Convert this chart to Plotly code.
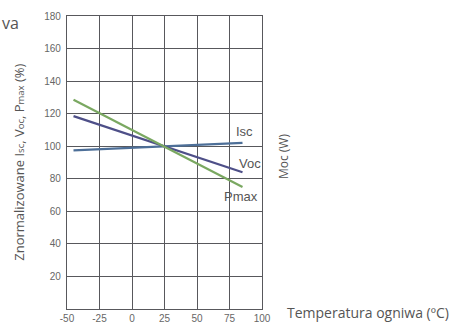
import plotly.graph_objects as go

temps = [-45, 85]
isc = [97.5, 102]
voc = [118.5, 84]
pmax = [128.5, 75]

x_ticks = [-50, -25, 0, 25, 50, 75, 100]
y_ticks = [20, 40, 60, 80, 100, 120, 140, 160, 180]

series = [("Isc", isc, "#4d6f98"), ("Voc", voc, "#4e4f88"), ("Pmax", pmax, "#7aa861")]

fig = go.Figure()
for name, vals, col in series:
    fig.add_trace(go.Scatter(x=temps, y=vals, mode="lines", name=name,
                             line=dict(color=col, width=2.2), showlegend=False))

grid = "#58585c"
fig.update_xaxes(range=[-50, 100], tickvals=x_ticks, ticktext=[str(v) for v in x_ticks],
                 showgrid=True, gridcolor=grid, gridwidth=1.3, showline=True, linecolor=grid,
                 linewidth=1.3, mirror=True, zeroline=False, ticks="", ticklabelstandoff=0,
                 automargin=False,
                 tickfont=dict(family="Liberation Sans", size=10, color="#666"))
fig.update_yaxes(range=[0, 180], tickvals=y_ticks, ticktext=[str(v) for v in y_ticks],
                 showgrid=True, gridcolor=grid, gridwidth=1.3, showline=True, linecolor=grid,
                 linewidth=1.3, mirror=True, zeroline=False, ticks="", ticklabelstandoff=3,
                 automargin=False,
                 tickfont=dict(family="Liberation Sans", size=10, color="#666"))

tf = dict(family="Open Sans", size=12, color="#555")
small = '<span style="font-size:9.5px">'
anns = [
    dict(x=86.5, y=109, text="Isc", xanchor="center", yanchor="middle"),
    dict(x=90.5, y=89.5, text="Voc", xanchor="center", yanchor="middle"),
    dict(x=84, y=69, text="Pmax", xanchor="center", yanchor="middle"),
]
for a in anns:
    fig.add_annotation(xref="x", yref="y", showarrow=False,
                       font=dict(family="Liberation Sans", size=13, color="#555"), **a)

fig.add_annotation(xref="paper", yref="paper", x=1.11, y=0.52, text="Moc (W)", textangle=-90,
                   showarrow=False, font=tf, xanchor="center", yanchor="middle")
fig.add_annotation(xref="paper", yref="paper", x=-0.25, y=0.5,
                   text="Znormalizowane I" + small + "sc</span>, V" + small + "oc</span>, P" + small + "max</span> (%)",
                   textangle=-90, showarrow=False, font=dict(family="Open Sans", size=13, color="#555"),
                   xanchor="center", yanchor="middle")
fig.add_annotation(xref="paper", yref="paper", x=1.12, y=-0.013, text="Temperatura ogniwa (ºC)",
                   showarrow=False, font=dict(family="Open Sans", size=14, color="#555"),
                   xanchor="left", yanchor="middle")
fig.add_annotation(xref="paper", yref="paper", x=-0.345, y=0.975, text="va",
                   showarrow=False, font=dict(family="Open Sans", size=16, color="#555"),
                   xanchor="left", yanchor="middle")

fig.update_layout(width=460, height=324, margin=dict(l=67, r=198, t=16, b=15, autoexpand=False),
                  paper_bgcolor="white", plot_bgcolor="white")
fig.write_html("out.html", config={"displayModeBar": False},
               post_script="document.body.style.margin='0';")
